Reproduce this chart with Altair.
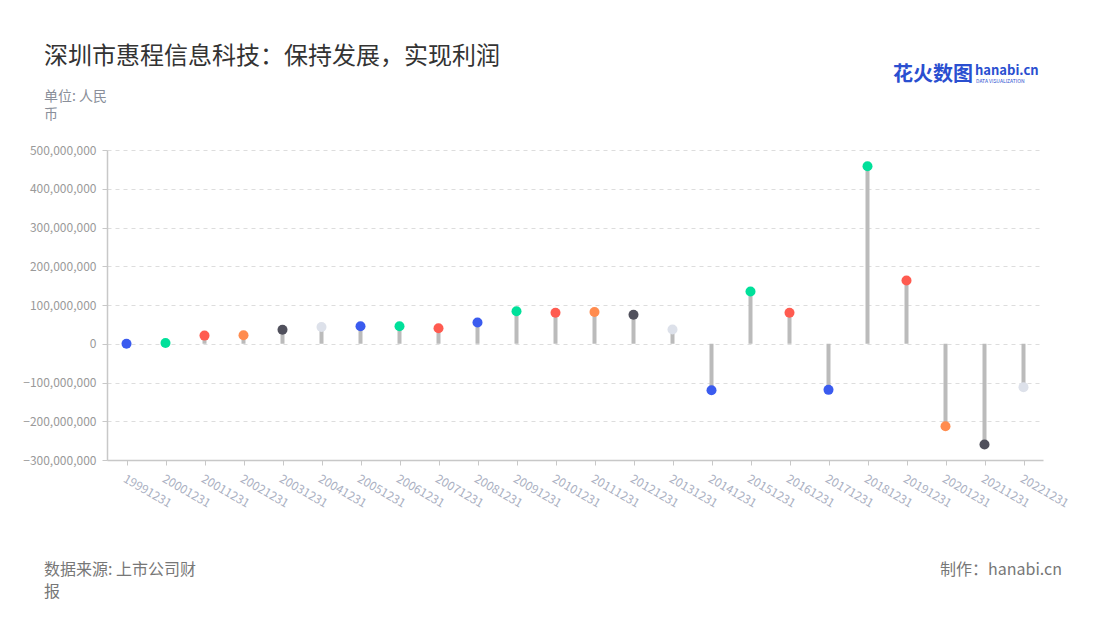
import altair as alt
import pandas as pd

dates = ["19991231", "20001231", "20011231", "20021231", "20031231", "20041231",
         "20051231", "20061231", "20071231", "20081231", "20091231", "20101231",
         "20111231", "20121231", "20131231", "20141231", "20151231", "20161231",
         "20171231", "20181231", "20191231", "20201231", "20211231", "20221231"]
profits = [0, 2e6, 21e6, 22e6, 36e6, 43e6, 45e6, 45e6, 40e6, 55e6, 84e6, 80e6,
           82e6, 75e6, 37e6, -120e6, 135e6, 80e6, -119e6, 458e6, 163e6, -213e6,
           -260e6, -112e6]
dot_colors = ["#3a5bef", "#00e09a", "#ff5b50", "#ff8c4f", "#50505c", "#dde1ea",
              "#3a5bef", "#00e09a", "#ff5b50", "#3a5bef", "#00e09a", "#ff5b50",
              "#ff8c4f", "#50505c", "#dde1ea", "#3a5bef", "#00e09a", "#ff5b50",
              "#3a5bef", "#00e09a", "#ff5b50", "#ff8c4f", "#50505c", "#dde1ea"]
y_ticks = [-300e6, -200e6, -100e6, 0, 100e6, 200e6, 300e6, 400e6, 500e6]

title = "深圳市惠程信息科技：保持发展，实现利润"
unit_lines = ["单位: 人民", "币"]
source_lines = ["数据来源: 上市公司财", "报"]
credit = "制作：hanabi.cn"

FONT = "Noto Sans CJK SC"
df = pd.DataFrame({"date": dates, "profit": profits, "zero": [0] * len(dates)})

W, H = 936, 310
L, T = 99, 142          # padding; page margin 8px => plot origin at (107, 150)
OX, OY = L + 8, T + 8

xaxis = alt.Axis(title=None, labelAngle=30, labelAlign="left",
                 labelBaseline="top", labelColor="#aab0c2",
                 labelFontSize=12, labelFont=FONT, labelPadding=8,
                 domainColor="#c8c8c8", domainWidth=1.5,
                 tickColor="#c8c8c8", tickSize=5, grid=False)
yaxis = alt.Axis(title=None, values=y_ticks, format=",.0f", labelOverlap=False,
                 labelColor="#9a9a9a", labelFontSize=12, labelFont=FONT,
                 labelPadding=6, domainColor="#c8c8c8", domainWidth=1.5,
                 tickColor="#c8c8c8", tickSize=5,
                 gridColor="#dddddd", gridDash=[4, 4])
xscale = alt.Scale(type="point", padding=0.5)
yscale = alt.Scale(domain=[-300e6, 500e6], nice=False)

stems = alt.Chart(df).mark_rule(color="#bbbbbb", strokeWidth=4).encode(
    x=alt.X("date:N", sort=dates, scale=xscale, axis=xaxis),
    y=alt.Y("profit:Q", scale=yscale, axis=yaxis),
    y2="zero:Q",
)
dots = alt.Chart(df).mark_circle(size=100, opacity=1).encode(
    x=alt.X("date:N", sort=dates, scale=xscale, axis=xaxis),
    y=alt.Y("profit:Q", scale=yscale, axis=yaxis),
    color=alt.Color("date:N", scale=alt.Scale(domain=dates, range=dot_colors),
                    legend=None),
)

def txt(s, x, y, size, color, align="left", weight="normal", baseline="alphabetic"):
    return alt.Chart(pd.DataFrame({"t": [s]})).mark_text(
        align=align, baseline=baseline, fontSize=size, color=color,
        fontWeight=weight, font=FONT
    ).encode(x=alt.value(x - OX), y=alt.value(y - OY), text="t:N")

texts = [
    txt(title, 44, 64, 24, "#333333"),
    txt(unit_lines[0], 44, 101, 14, "#8a8f9a"),
    txt(unit_lines[1], 44, 119, 14, "#8a8f9a"),
    txt(source_lines[0], 44, 575, 16, "#777777"),
    txt(source_lines[1], 44, 597, 16, "#777777"),
    txt(credit, 1062, 575, 16, "#777777", align="right"),
    txt("花火数图", 893, 81, 20, "#2a4fd0", weight="bold"),
    txt("hanabi.cn", 975, 75, 13, "#2a4fd0", weight="bold"),
    txt("DATA VISUALIZATION", 976, 81, 5, "#2a4fd0", baseline="middle"),
]

chart = alt.layer(stems, dots, *texts).properties(
    width=W, height=H,
    autosize=alt.AutoSizeParams(type="none"),
    padding={"left": L, "top": T, "right": 1084 - L - W, "bottom": 604 - T - H},
).configure(font=FONT).configure_view(strokeWidth=0)

chart.save("out.html", embed_options={"renderer": "svg", "actions": False})
